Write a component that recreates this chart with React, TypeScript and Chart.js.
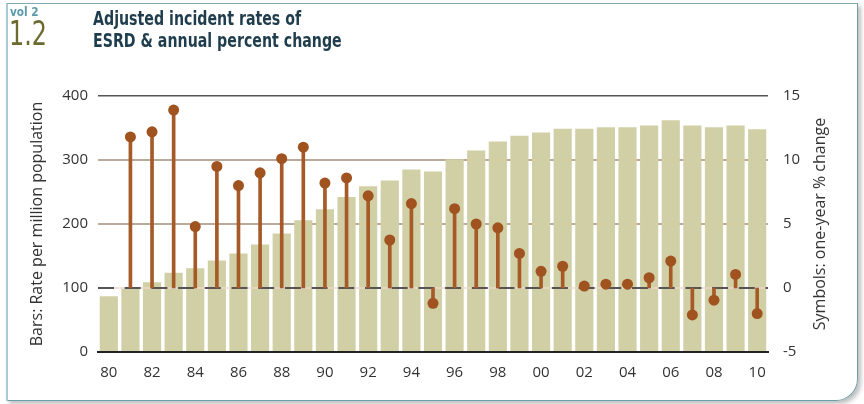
import React, { useEffect, useRef } from "react";
import { Chart, registerables } from "chart.js";

Chart.register(...registerables);

const years: string[] = [
  "80", "81", "82", "83", "84", "85", "86", "87", "88", "89",
  "90", "91", "92", "93", "94", "95", "96", "97", "98", "99",
  "00", "01", "02", "03", "04", "05", "06", "07", "08", "09", "10",
];

// Bars: adjusted incident rate per million population
const rates: number[] = [
  87, 99, 109, 124, 131, 143, 154, 168, 185, 206,
  223, 242, 259, 268, 285, 282, 301, 315, 329, 338,
  343, 349, 349, 351, 351, 354, 362, 354, 351, 354, 348,
];

// Symbols: one-year % change (no value for 1980)
const pctChange: (number | null)[] = [
  null, 11.8, 12.2, 13.9, 4.8, 9.5, 8.0, 9.0, 10.1, 11.0,
  8.2, 8.6, 7.2, 3.75, 6.6, -1.2, 6.2, 5.0, 4.7, 2.7,
  1.3, 1.7, 0.15, 0.3, 0.3, 0.8, 2.1, -2.1, -0.95, 1.06, -2.0,
];

const leftTicks: number[] = [0, 100, 200, 300, 400];
const rightTicks: number[] = [-5, 0, 5, 10, 15];

const TICK_FONT = { family: "'Open Sans', sans-serif", size: 15 };
const TEXT_COLOR = "#333333";
const COND_FONT = "'Liberation Sans Narrow', 'DejaVu Sans Condensed', sans-serif";

export default function App() {
  const canvasRef = useRef<HTMLCanvasElement | null>(null);

  useEffect(() => {
    const canvas = canvasRef.current;
    if (!canvas) return;

    const zeroLinePlugin = {
      id: "zeroLine",
      afterDatasetDraw(chart: any, args: any) {
        if (args.index !== 0) return;
        const { ctx, chartArea } = chart;
        const y = chart.scales.y1.getPixelForValue(0);
        ctx.save();
        ctx.strokeStyle = "#efd8c8";
        ctx.lineWidth = 1.5;
        ctx.beginPath();
        ctx.moveTo(chartArea.left, y);
        ctx.lineTo(chartArea.right, y);
        ctx.stroke();
        ctx.strokeStyle = "#555555";
        ctx.lineWidth = 2;
        ctx.setLineDash([16, 10.7]);
        ctx.beginPath();
        ctx.moveTo(chartArea.left, y);
        ctx.lineTo(chartArea.right, y);
        ctx.stroke();
        ctx.restore();
      },
    };

    const rightTitlePlugin = {
      id: "rightTitle",
      afterDraw(chart: any) {
        const { ctx, chartArea } = chart;
        ctx.save();
        ctx.translate(820, (chartArea.top + chartArea.bottom) / 2);
        ctx.rotate(-Math.PI / 2);
        ctx.font = "16px 'Open Sans', sans-serif";
        ctx.fillStyle = TEXT_COLOR;
        ctx.textAlign = "center";
        ctx.textBaseline = "middle";
        ctx.fillText("Symbols: one-year % change", 0, 0);
        ctx.restore();
      },
    };

    const chart = new Chart(canvas, {
      type: "bar",
      data: {
        labels: years,
        datasets: [
          {
            type: "bar",
            data: rates,
            yAxisID: "y",
            backgroundColor: "#d0cfa5",
            barPercentage: 0.84,
            categoryPercentage: 1,
            grouped: false,
            order: 3,
          } as any,
          {
            type: "bar",
            data: pctChange,
            yAxisID: "y1",
            backgroundColor: "#a65a28",
            barThickness: 3,
            grouped: false,
            order: 2,
          } as any,
          {
            type: "line",
            data: pctChange,
            yAxisID: "y1",
            showLine: false,
            pointRadius: 5.5,
            pointHoverRadius: 5.5,
            pointBackgroundColor: "#a0521f",
            pointBorderWidth: 0,
            borderColor: "#a0521f",
            order: 1,
          } as any,
        ],
      },
      options: {
        animation: false,
        responsive: false,
        events: [],
        layout: { padding: { top: 96, left: 0, right: 0, bottom: 0 } },
        plugins: {
          legend: { display: false },
          tooltip: { enabled: false },
          title: { display: false },
        },
        scales: {
          x: {
            offset: true,
            grid: { display: false, drawTicks: false },
            border: { display: true, color: "#222222", width: 2 },
            ticks: {
              autoSkip: false,
              maxRotation: 0,
              padding: 12,
              color: TEXT_COLOR,
              font: TICK_FONT,
              callback: (_v: any, i: number) => (i % 2 === 0 ? years[i] : ""),
            },
            afterFit: (s: any) => {
              s.height = 52;
            },
          },
          y: {
            position: "left",
            min: 0,
            max: 400,
            afterBuildTicks: (s: any) => {
              s.ticks = leftTicks.map((v) => ({ value: v }));
            },
            grid: {
              drawTicks: false,
              lineWidth: (c: any) => (c.tick && c.tick.value === 400 ? 1.5 : 2),
              color: (c: any) => {
                const v = c.tick ? c.tick.value : null;
                if (v === 400) return "#555555";
                if (v === 300 || v === 200) return "#b9aa9a";
                return "rgba(0,0,0,0)";
              },
            },
            border: { display: false },
            ticks: { padding: 10, color: TEXT_COLOR, font: TICK_FONT },
            title: {
              display: true,
              text: "Bars: Rate per million population",
              color: TEXT_COLOR,
              font: { family: "'Open Sans', sans-serif", size: 16 },
              padding: { top: 28, bottom: 0 },
            },
            afterFit: (s: any) => {
              s.width = 98;
            },
          },
          y1: {
            position: "right",
            min: -5,
            max: 15,
            afterBuildTicks: (s: any) => {
              s.ticks = rightTicks.map((v) => ({ value: v }));
            },
            grid: { display: false, drawTicks: false },
            border: { display: false },
            ticks: { padding: 15, color: TEXT_COLOR, font: TICK_FONT },
            afterFit: (s: any) => {
              s.width = 96;
            },
          },
        },
      } as any,
      plugins: [zeroLinePlugin, rightTitlePlugin],
    });

    return () => {
      chart.destroy();
    };
  }, []);

  return (
    <div
      style={{
        position: "fixed",
        left: 0,
        top: 0,
        width: 864,
        height: 404,
        background: "#ffffff",
        overflow: "hidden",
      }}
    >
      <div
        style={{
          position: "absolute",
          left: 6,
          top: 3,
          width: 849,
          height: 396,
          borderTop: "1.5px solid #7ea9b5",
          borderLeft: "2px solid #a9cbd5",
          borderRight: "1.5px solid #6f9eab",
          borderBottom: "1.5px solid #6f9eab",
          borderBottomRightRadius: 22,
          boxShadow: "3px 3px 4px rgba(0,0,0,0.25)",
          boxSizing: "content-box",
        }}
      />
      <canvas
        ref={canvasRef}
        width={864}
        height={404}
        style={{ position: "absolute", left: 0, top: 0, width: 864, height: 404 }}
      />
      <div
        style={{
          position: "absolute",
          left: 10,
          top: 4,
          fontFamily: COND_FONT,
          fontWeight: "bold",
          fontSize: 13,
          color: "#5b9aaa",
          lineHeight: "16px",
          transform: "scaleX(0.9)",
          transformOrigin: "left top",
          whiteSpace: "nowrap",
        }}
      >
        vol 2
      </div>
      <div
        style={{
          position: "absolute",
          left: 9,
          top: 14,
          fontFamily: COND_FONT,
          fontSize: 34,
          color: "#6d6a2e",
          lineHeight: "38px",
          transform: "scaleX(0.78)",
          transformOrigin: "left top",
          whiteSpace: "nowrap",
        }}
      >
        1.2
      </div>
      <div
        style={{
          position: "absolute",
          left: 93,
          top: 7,
          fontFamily: COND_FONT,
          fontWeight: "bold",
          fontSize: 19,
          color: "#1f3d4d",
          lineHeight: "22px",
          transform: "scaleX(0.83)",
          transformOrigin: "left top",
          whiteSpace: "nowrap",
        }}
      >
        Adjusted incident rates of
        <br />
        ESRD &amp; annual percent change
      </div>
    </div>
  );
}
